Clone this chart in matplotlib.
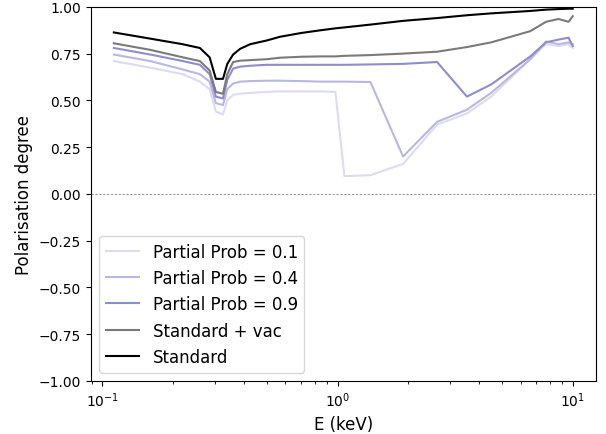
import matplotlib
matplotlib.use("Agg")
import matplotlib.pyplot as plt

energy = [0.112, 0.16, 0.22, 0.26, 0.286, 0.304, 0.326, 0.34, 0.36, 0.385, 0.425,
          0.50, 0.57, 0.70, 0.85, 0.98, 1.07, 1.38, 1.9, 2.65, 3.55, 4.5, 6.6,
          7.7, 8.7, 9.6, 10.0]

pol_standard = [0.863, 0.83, 0.80, 0.78, 0.73, 0.615, 0.615, 0.695, 0.745, 0.775, 0.80,
                0.82, 0.84, 0.86, 0.875, 0.885, 0.89, 0.905, 0.925, 0.94, 0.955, 0.965,
                0.978, 0.985, 0.988, 0.99, 0.99]
pol_standard_vac = [0.805, 0.77, 0.73, 0.71, 0.66, 0.545, 0.535, 0.64, 0.705, 0.712, 0.715,
                    0.72, 0.728, 0.733, 0.735, 0.735, 0.738, 0.742, 0.75, 0.76, 0.785, 0.81,
                    0.87, 0.92, 0.935, 0.92, 0.95]
pol_p09 = [0.78, 0.745, 0.71, 0.69, 0.64, 0.52, 0.51, 0.61, 0.67, 0.68, 0.685,
           0.69, 0.69, 0.69, 0.69, 0.69, 0.69, 0.692, 0.695, 0.705, 0.52, 0.585,
           0.735, 0.81, 0.825, 0.835, 0.79]
pol_p04 = [0.745, 0.71, 0.665, 0.64, 0.60, 0.485, 0.475, 0.56, 0.59, 0.60, 0.603,
           0.605, 0.605, 0.603, 0.60, 0.60, 0.60, 0.598, 0.20, 0.385, 0.45, 0.54,
           0.72, 0.815, 0.80, 0.81, 0.80]
pol_p01 = [0.71, 0.675, 0.64, 0.60, 0.56, 0.44, 0.425, 0.50, 0.53, 0.535, 0.54,
           0.545, 0.548, 0.548, 0.548, 0.545, 0.095, 0.10, 0.16, 0.37, 0.43, 0.52,
           0.72, 0.80, 0.79, 0.80, 0.78]

labels = ["Partial Prob = 0.1", "Partial Prob = 0.4", "Partial Prob = 0.9",
          "Standard + vac", "Standard"]
series = [pol_p01, pol_p04, pol_p09, pol_standard_vac, pol_standard]
colors = ["#dcdbef", "#b9b7e0", "#8f8cca", "#7a7a7a", "#000000"]

fig = plt.figure(figsize=(6.06, 4.35), dpi=100)
ax = fig.add_axes([0.150, 0.122, 0.833, 0.860])

ax.axhline(0, color="#999999", lw=0.8, ls=(0, (2, 1.5)))
for y, lab, c in zip(series, labels, colors):
    ax.plot(energy, y, color=c, lw=1.5, label=lab)

ax.set_xscale("log")
ax.set_ylim(-1.0, 1.0)
ax.set_yticks([-1.0, -0.75, -0.5, -0.25, 0.0, 0.25, 0.5, 0.75, 1.0])
ax.set_xlabel("E (keV)", fontsize=12)
ax.set_ylabel("Polarisation degree", fontsize=12)
ax.legend(loc="lower left", fontsize=12)

fig.savefig("out.png", dpi=100)
